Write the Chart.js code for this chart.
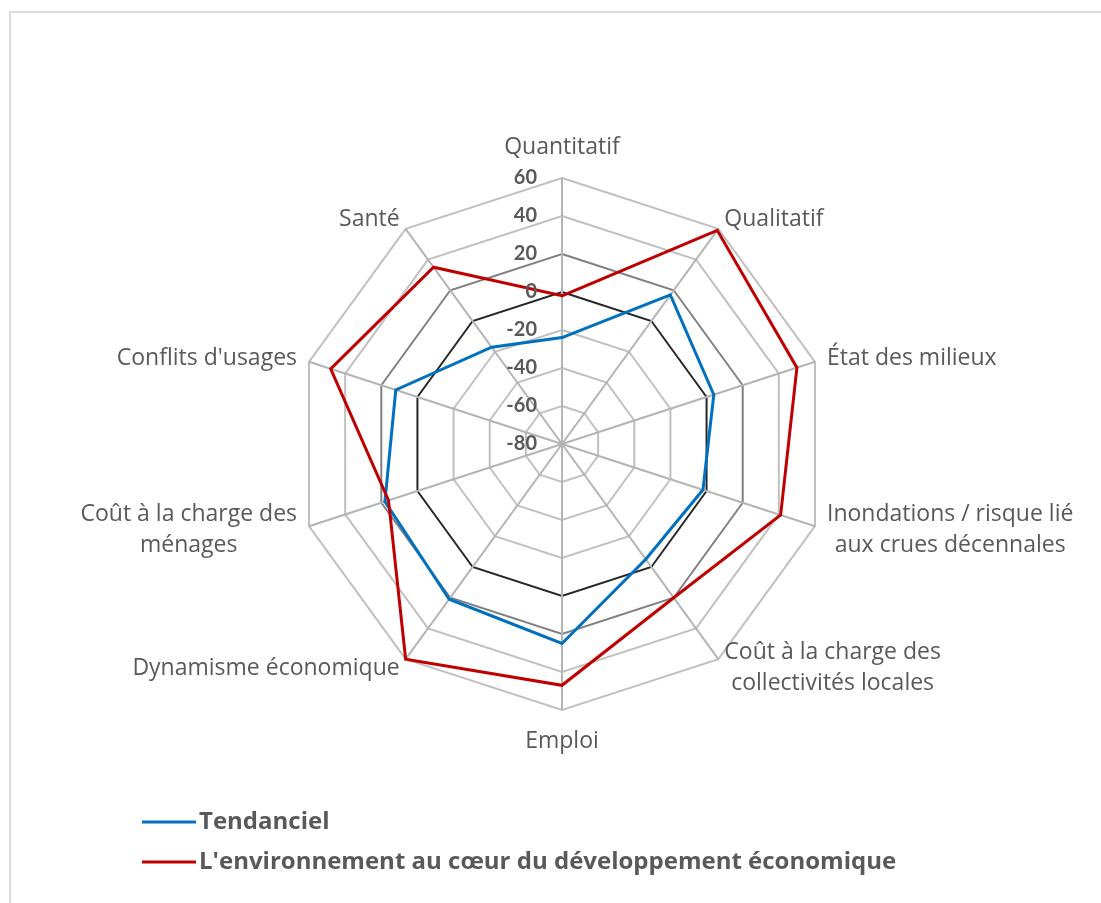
<!DOCTYPE html>
<html>
<head>
<meta charset="utf-8">
<script src="https://cdn.jsdelivr.net/npm/chart.js@4.4.0/dist/chart.umd.min.js"></script>
<style>
  html, body { margin: 0; padding: 0; background: #fff; }
  #frame { position: absolute; left: 9px; top: 11px; width: 1100px; height: 900px;
           border-top: 2px solid #dcdcdc; border-left: 2px solid #dcdcdc; }
  #radarChart { position: absolute; left: 0; top: 0; }
</style>
</head>
<body>
<div id="frame"></div>
<canvas id="radarChart" width="1101" height="903"></canvas>
<script>
// axis names (multi-line ones split as in the original)
var axisLabels = [
    ["Quantitatif"],
    ["Qualitatif"],
    ["État des milieux"],
    ["Inondations / risque lié", "aux crues décennales"],
    ["Coût à la charge des", "collectivités locales"],
    ["Emploi"],
    ["Dynamisme économique"],
    ["Coût à la charge des", "ménages"],
    ["Conflits d'usages"],
    ["Santé"]
];

var seriesNames = ["Tendanciel", "L'environnement au cœur du développement économique"];
var tendanciel = [-24, 17, 4, -2, -5, 25, 21, 18, 12, -17];
var environnement = [-2, 59, 50, 41, 20, 47, 60, 16, 48, 35];
var tickValues = [-80, -60, -40, -20, 0, 20, 40, 60];

var blue = "#0070c0";
var red = "#c00000";
var textGrey = "#595959";
var labelFont = "'Open Sans', sans-serif";
var tickFont = "Lato, 'Open Sans', sans-serif";

// tick labels drawn to the left of the vertical axis
var tickLabelPlugin = {
    id: "tickLabels",
    afterDatasetsDraw: function(chart) {
        var scale = chart.scales.r;
        var ctx = chart.ctx;
        ctx.save();
        ctx.font = "bold 20px " + tickFont;
        ctx.fillStyle = textGrey;
        ctx.textAlign = "right";
        ctx.textBaseline = "middle";
        tickValues.forEach(function(v) {
            var y = scale.yCenter - scale.getDistanceFromCenterForValue(v);
            ctx.fillText(String(v), scale.xCenter - 25, y);
        });
        ctx.restore();
    }
};

// point labels, lines centred inside their block like Excel does
var pointLabelPlugin = {
    id: "pointLabelsCentered",
    afterDraw: function(chart) {
        var scale = chart.scales.r;
        var ctx = chart.ctx;
        var lineH = 31;
        ctx.save();
        ctx.font = "23px " + labelFont;
        ctx.fillStyle = textGrey;
        ctx.textBaseline = "middle";
        axisLabels.forEach(function(lines, i) {
            var p = scale.getPointPosition(i, scale.drawingArea);
            var angle = scale.getIndexAngle(i);
            var s = Math.sin(angle), c = Math.cos(angle);
            var blockW = Math.max.apply(null, lines.map(function(l) { return ctx.measureText(l).width; }));
            var blockH = lines.length * lineH;
            var cx, cy;
            if (Math.abs(s) < 0.1) {
                cx = p.x;
                cy = c > 0 ? p.y - 15 - blockH / 2 : p.y + 16 + blockH / 2;
            } else {
                var dx = Math.abs(s) > 0.8 ? 12 : 6;
                cx = s > 0 ? p.x + dx + blockW / 2 : p.x - dx - blockW / 2;
                cy = p.y - c * 11;
            }
            ctx.textAlign = "center";
            lines.forEach(function(l, k) {
                ctx.fillText(l, cx, cy - blockH / 2 + lineH * (k + 0.5));
            });
        });
        ctx.restore();
    }
};

// legend stacked in two rows at the bottom left
var legendPlugin = {
    id: "stackedLegend",
    afterDraw: function(chart) {
        var ctx = chart.ctx;
        ctx.save();
        ctx.font = "bold 24px " + labelFont;
        ctx.textBaseline = "middle";
        ctx.textAlign = "left";
        var colors = [blue, red];
        seriesNames.forEach(function(name, i) {
            var y = 822 + i * 40;
            ctx.strokeStyle = colors[i];
            ctx.lineWidth = 3;
            ctx.beginPath();
            ctx.moveTo(142, y);
            ctx.lineTo(196, y);
            ctx.stroke();
            ctx.fillStyle = textGrey;
            ctx.fillText(name, 199, y);
        });
        ctx.restore();
    }
};

function gridColor(context) {
    var v = context.tick ? context.tick.value : null;
    if (v === 0) return "#262626";
    if (v === 20) return "#808080";
    return "#c0c0c0";
}

var chart = new Chart(document.getElementById("radarChart"), {
    type: "radar",
    data: {
        labels: axisLabels,
        datasets: [
            {
                label: seriesNames[0],
                data: tendanciel,
                borderColor: blue,
                borderWidth: 3,
                fill: false,
                pointRadius: 0,
                order: 1
            },
            {
                label: seriesNames[1],
                data: environnement,
                borderColor: red,
                borderWidth: 3,
                fill: false,
                pointRadius: 0,
                order: 0
            }
        ]
    },
    options: {
        responsive: false,
        animation: false,
        layout: { padding: { top: 178, bottom: 193, left: 100, right: 77 } },
        plugins: {
            legend: { display: false },
            tooltip: { enabled: false }
        },
        elements: { line: { tension: 0 } },
        scales: {
            r: {
                min: -80,
                max: 60,
                ticks: { stepSize: 20, display: false },
                pointLabels: { display: false },
                grid: { color: gridColor, lineWidth: 2 },
                angleLines: { color: "#b4b4b4", lineWidth: 2 }
            }
        }
    },
    plugins: [tickLabelPlugin, pointLabelPlugin, legendPlugin]
});
</script>
</body>
</html>
